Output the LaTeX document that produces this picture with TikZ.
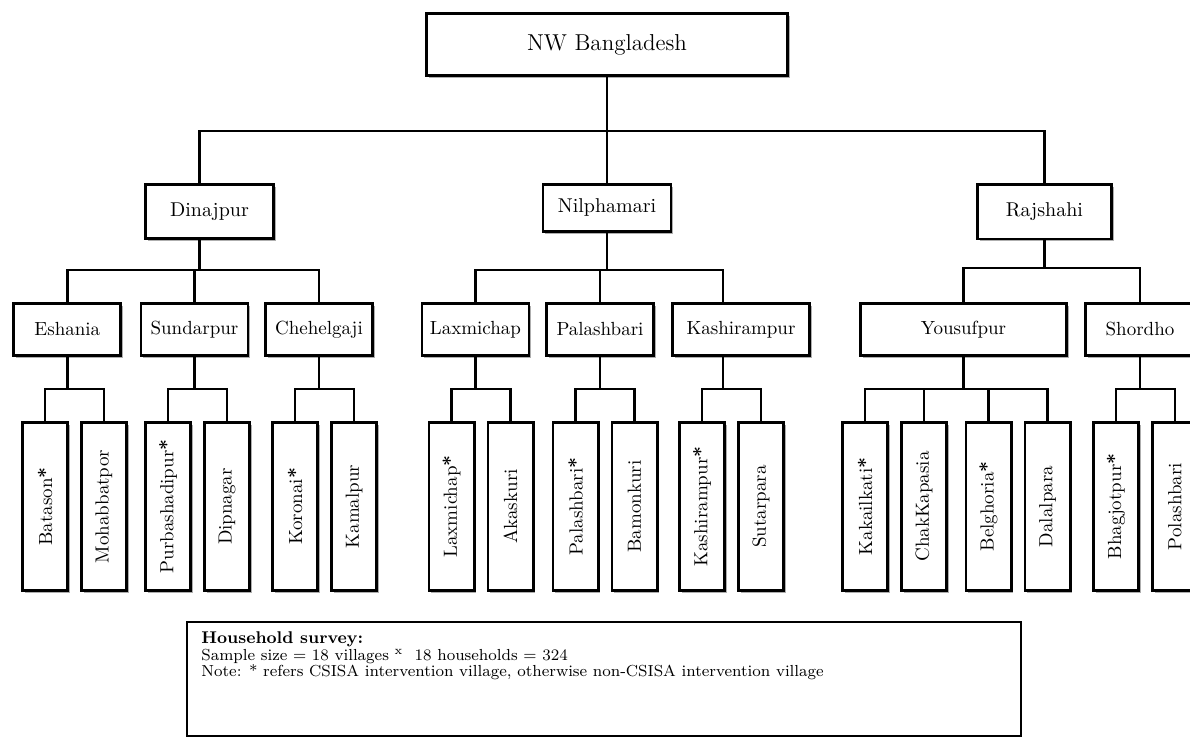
\documentclass[tikz,border=0pt]{standalone}
\usepackage{graphicx}
\usepackage{tikz}
\usetikzlibrary{positioning,shadows}

\begin{document}
\begin{tikzpicture}[x=0.5pt,y=-0.5pt,node distance=29.5pt,on grid,
    box/.style={draw,line width=1.4pt,fill=white,inner sep=0pt,
      drop shadow={shadow xshift=1.1pt,shadow yshift=-1.1pt,fill=black!45,opacity=.7}},
    top/.style={box,minimum width=180.6pt,minimum height=31.1pt,font=\fontsize{11.5}{13}\selectfont},
    dist/.style={box,minimum width=64pt,minimum height=27.1pt,font=\fontsize{10}{12}\selectfont},
    upaz/.style={box,minimum width=53.5pt,minimum height=26.1pt,font=\fontsize{9.5}{11}\selectfont},
    vill/.style={box,minimum width=22.6pt,minimum height=84.1pt,font=\fontsize{9.5}{11}\selectfont},
    wire/.style={line width=1.3pt},
    notebox/.style={draw,line width=1.2pt,minimum width=416.8pt,minimum height=57pt,inner sep=0pt}]
    \useasboundingbox (0,0) rectangle (1190,738);
    \node[top] (nw) at (607,44.5) {NW Bangladesh};
    \node[dist] (dinaj) at (209.5,211.5) {Dinajpur};
    \node[dist,minimum height=23.6pt] (nilph) at (607,208) {Nilphamari};
    \node[dist,minimum width=67.1pt] (rajsh) at (1044.5,212) {Rajshahi};
    \node[upaz] (eshania) at (67.25,329.5) {Eshania};
    \node[upaz] (sundar) at (194.5,329.5) {Sundarpur};
    \node[upaz] (chehel) at (319,329.5) {Chehelgaji};
    \node[upaz] (laxmi) at (475.5,329.5) {Laxmichap};
    \node[upaz] (palash) at (600,329.5) {Palashbari};
    \node[upaz,minimum width=68.6pt] (kashi) at (741,329.5) {Kashirampur};
    \node[upaz,minimum width=103.1pt] (yousuf) at (963.5,329.5) {Yousufpur};
    \node[upaz,minimum width=54.6pt] (shordho) at (1140,329.5) {Shordho};
    \node[vill] (batason) at (45,506.5) {\rotatebox{90}{Batason\textbf{*}}};
    \node[vill,right=of batason] (mohab) {\rotatebox{90}{Mohabbatpor}};
    \node[vill] (purba) at (168,506.5) {\rotatebox{90}{Purbashadipur\textbf{*}}};
    \node[vill,right=of purba] (dipn) {\rotatebox{90}{Dipnagar}};
    \node[vill] (koron) at (295,506.5) {\rotatebox{90}{Koronai\textbf{*}}};
    \node[vill,right=of koron] (kamal) {\rotatebox{90}{Kamalpur}};
    \node[vill] (laxvil) at (451.5,506.5) {\rotatebox{90}{Laxmichap\textbf{*}}};
    \node[vill,right=of laxvil] (akask) {\rotatebox{90}{Akaskuri}};
    \node[vill] (palvil) at (575.5,506.5) {\rotatebox{90}{Palashbari\textbf{*}}};
    \node[vill,right=of palvil] (bamon) {\rotatebox{90}{Bamonkuri}};
    \node[vill] (kashvil) at (702,506.5) {\rotatebox{90}{Kashirampur\textbf{*}}};
    \node[vill,right=of kashvil] (sutar) {\rotatebox{90}{Sutarpara}};
    \node[vill] (kakail) at (865,506.5) {\rotatebox{90}{Kakailkati\textbf{*}}};
    \node[vill,right=of kakail] (chak) {\rotatebox{90}{ChakKapasia}};
    \node[vill] (belgh) at (988.5,506.5) {\rotatebox{90}{Belghoria\textbf{*}}};
    \node[vill,right=of belgh] (dalal) {\rotatebox{90}{Dalalpara}};
    \node[vill] (bhag) at (1116,506.5) {\rotatebox{90}{Bhagjotpur\textbf{*}}};
    \node[vill,right=of bhag] (polash) {\rotatebox{90}{Polashbari}};
    \coordinate (b1) at (0,131);
    \coordinate (b2) at (0,270);
    \coordinate (b2r) at (0,268);
    \coordinate (b3) at (0,389);
    \draw[wire] (nw.south) -- (nilph.north);
    \draw[wire] ([xshift=-5pt]dinaj.north) |- (rajsh.north |- b1) -- (rajsh.north);
    \draw[wire] ([xshift=-5pt]dinaj.south) -- ([xshift=-5pt]dinaj.south |- b2);
    \draw[wire] (eshania.north) |- (chehel.north |- b2) -- (chehel.north);
    \draw[wire] (sundar.north) -- (sundar.north |- b2);
    \draw[wire] (nilph.south) -- (nilph.south |- b2);
    \draw[wire] (laxmi.north) |- ([xshift=-9pt]kashi.north |- b2) -- ([xshift=-9pt]kashi.north);
    \draw[wire] (palash.north) -- (palash.north |- b2);
    \draw[wire] (rajsh.south) -- (rajsh.south |- b2r);
    \draw[wire] (yousuf.north) |- (shordho.north |- b2r) -- (shordho.north);
    \draw[wire] (eshania.south) -- (eshania.south |- b3);
    \draw[wire] (batason.north) |- (mohab.north |- b3) -- (mohab.north);
    \draw[wire] (sundar.south) -- (sundar.south |- b3);
    \draw[wire] (purba.north) |- (dipn.north |- b3) -- (dipn.north);
    \draw[wire] (chehel.south) -- (chehel.south |- b3);
    \draw[wire] (koron.north) |- (kamal.north |- b3) -- (kamal.north);
    \draw[wire] (laxmi.south) -- (laxmi.south |- b3);
    \draw[wire] (laxvil.north) |- (akask.north |- b3) -- (akask.north);
    \draw[wire] (palash.south) -- (palash.south |- b3);
    \draw[wire] (palvil.north) |- (bamon.north |- b3) -- (bamon.north);
    \draw[wire] ([xshift=-9pt]kashi.south) -- ([xshift=-9pt]kashi.south |- b3);
    \draw[wire] (kashvil.north) |- (sutar.north |- b3) -- (sutar.north);
    \draw[wire] (yousuf.south) -- (yousuf.south |- b3);
    \draw[wire] (kakail.north) |- (dalal.north |- b3) -- (dalal.north);
    \draw[wire] (chak.north) -- (chak.north |- b3);
    \draw[wire] (belgh.north) -- (belgh.north |- b3);
    \draw[wire] (shordho.south) -- (shordho.south |- b3);
    \draw[wire] (bhag.north) |- (polash.north |- b3) -- (polash.north);
    \node[notebox] (note) at (604,679.25) {};
    \node[anchor=north west,align=left,inner sep=0pt,font=\fontsize{8}{8.4}\selectfont] (notetxt)
      at ([xshift=7.5pt,yshift=-5pt]note.north west)
      {{\fontsize{8.5}{8.4}\selectfont\bfseries Household survey:}\\
       Sample size = 18 villages \textsuperscript{x}\ \ 18 households = 324\\
       Note: * refers CSISA intervention village, otherwise non-CSISA intervention village};
\end{tikzpicture}
\end{document}
